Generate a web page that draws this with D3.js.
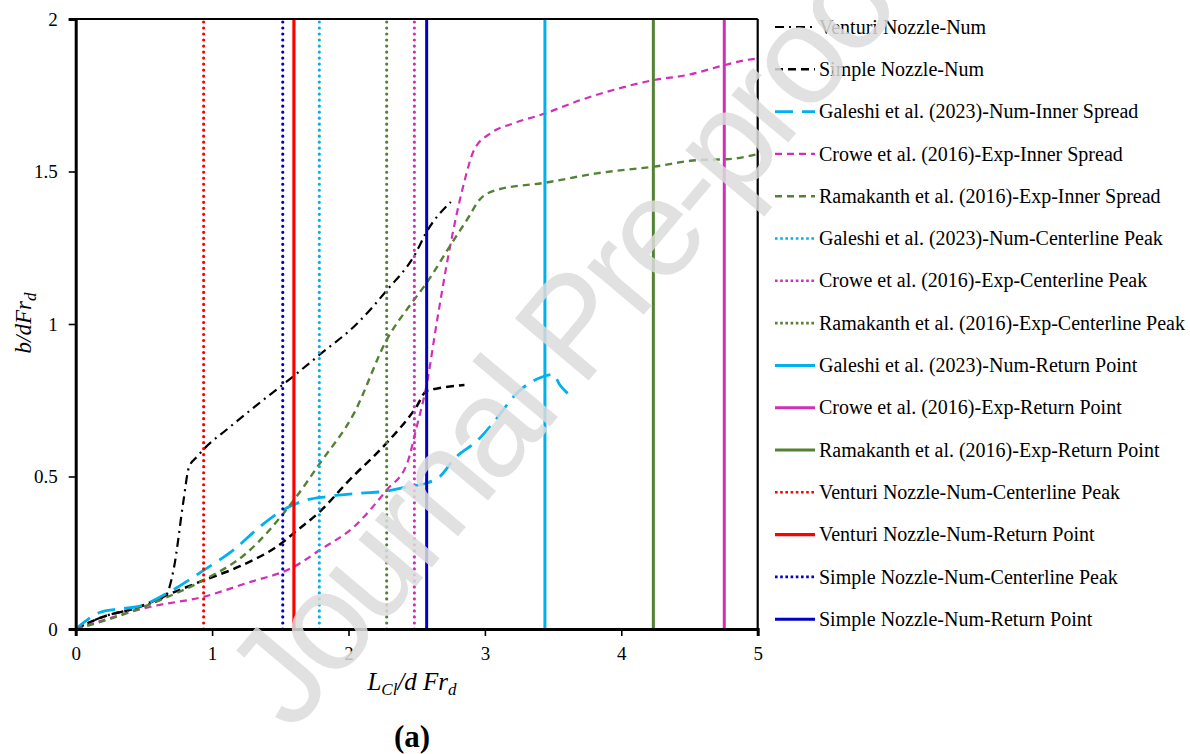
<!DOCTYPE html>
<html>
<head>
<meta charset="utf-8">
<script src="https://cdn.jsdelivr.net/npm/d3@7"></script>
<style>
  html, body { margin: 0; padding: 0; background: #fff; }
  svg { display: block; }
</style>
</head>
<body>
<svg id="chart" width="1190" height="754"></svg>
<script>
// ---------- DATA ----------
const xTicks = [0, 1, 2, 3, 4, 5];
const yTicks = [0, 0.5, 1, 1.5, 2];
const yTickLabels = ["0", "0.5", "1", "1.5", "2"];

const venturiX = [0, 0.2, 0.45, 0.66, 0.72, 0.79, 0.83, 0.89, 0.94, 1.11, 1.33, 1.6, 1.79, 2.06, 2.28, 2.49, 2.57, 2.75];
const venturiY = [0, 0.04, 0.07, 0.11, 0.2, 0.42, 0.53, 0.565, 0.59, 0.655, 0.735, 0.83, 0.90, 1.00, 1.11, 1.23, 1.30, 1.40];

const simpleX = [0, 0.2, 0.45, 0.69, 0.94, 1.2, 1.52, 1.6, 1.79, 2.01, 2.28, 2.5, 2.57, 2.67, 2.85];
const simpleY = [0, 0.04, 0.07, 0.115, 0.16, 0.205, 0.285, 0.315, 0.385, 0.49, 0.61, 0.73, 0.78, 0.79, 0.80];

const galeshiX = [0, 0.18, 0.3, 0.47, 0.67, 0.94, 1.16, 1.35, 1.52, 1.69, 1.84, 2.08, 2.28, 2.44, 2.57, 2.67, 2.78, 2.95, 3.05, 3.25, 3.4, 3.5, 3.55, 3.64];
const galeshiY = [0, 0.055, 0.065, 0.075, 0.117, 0.193, 0.26, 0.335, 0.39, 0.423, 0.434, 0.445, 0.452, 0.467, 0.478, 0.50, 0.56, 0.62, 0.67, 0.78, 0.823, 0.835, 0.80, 0.76];

const croweX = [0, 0.55, 0.94, 1.25, 1.6, 1.79, 2.04, 2.28, 2.43, 2.5, 2.57, 2.65, 2.74, 2.84, 2.92, 3.04, 3.21, 3.44, 3.7, 3.94, 4.24, 4.48, 4.76, 4.92, 5.0];
const croweY = [0, 0.073, 0.106, 0.15, 0.204, 0.259, 0.335, 0.456, 0.543, 0.663, 0.794, 1.013, 1.243, 1.45, 1.57, 1.625, 1.658, 1.69, 1.734, 1.767, 1.80, 1.816, 1.849, 1.866, 1.87];

const ramakanthX = [0, 0.37, 0.62, 0.94, 1.25, 1.6, 1.79, 2.04, 2.28, 2.48, 2.57, 2.75, 2.88, 2.96, 3.09, 3.44, 3.82, 4.24, 4.58, 4.77, 5.0];
const ramakanthY = [0, 0.051, 0.095, 0.161, 0.248, 0.423, 0.543, 0.707, 0.948, 1.079, 1.133, 1.26, 1.35, 1.407, 1.44, 1.463, 1.494, 1.516, 1.538, 1.54, 1.557];

// vertical marker lines (x positions)
const markerNames = [
  "Galeshi et al. (2023)-Num-Centerline Peak",
  "Crowe et al. (2016)-Exp-Centerline Peak",
  "Ramakanth et al. (2016)-Exp-Centerline Peak",
  "Galeshi et al. (2023)-Num-Return Point",
  "Crowe et al. (2016)-Exp-Return Point",
  "Ramakanth et al. (2016)-Exp-Return Point",
  "Venturi Nozzle-Num-Centerline Peak",
  "Venturi Nozzle-Num-Return Point",
  "Simple Nozzle-Num-Centerline Peak",
  "Simple Nozzle-Num-Return Point"
];
const markerX = [1.786, 2.483, 2.28, 3.44, 4.755, 4.235, 0.938, 1.60, 1.518, 2.573];

const curveNames = [
  "Venturi Nozzle-Num",
  "Simple Nozzle-Num",
  "Galeshi et al. (2023)-Num-Inner Spread",
  "Crowe et al. (2016)-Exp-Inner Spread",
  "Ramakanth et al. (2016)-Exp-Inner Spread"
];

// ---------- STYLES ----------
const C_CYAN = "#00B0F0", C_MAG = "#D22FB8", C_GREEN = "#548235", C_RED = "#FF0000", C_BLUE = "#0000C8", C_BLACK = "#000000";
const curveStyles = [
  {color: C_BLACK, dash: "9 5 2 5", w: 2.2},
  {color: C_BLACK, dash: "8 5", w: 2.5},
  {color: C_CYAN, dash: "18 9", w: 2.8},
  {color: C_MAG, dash: "7 5", w: 2.2},
  {color: C_GREEN, dash: "7 5", w: 2.4}
];
const DOT = "0.01 6";
const markerStyles = [
  {color: C_CYAN, dash: DOT, w: 3.2},
  {color: C_MAG, dash: DOT, w: 3.2},
  {color: C_GREEN, dash: DOT, w: 3.2},
  {color: C_CYAN, dash: null, w: 3},
  {color: C_MAG, dash: null, w: 3},
  {color: C_GREEN, dash: null, w: 3},
  {color: C_RED, dash: DOT, w: 3.2},
  {color: C_RED, dash: null, w: 3.2},
  {color: C_BLUE, dash: DOT, w: 3.2},
  {color: C_BLUE, dash: null, w: 3}
];

const svg = d3.select("#chart");
const xs = d3.scaleLinear().domain([0, 5]).range([75.7, 757.7]);
const ys = d3.scaleLinear().domain([0, 2]).range([629, 19]);
const FONT = "'Liberation Serif','Times New Roman',serif";

const curves = [
  [venturiX, venturiY], [simpleX, simpleY], [galeshiX, galeshiY], [croweX, croweY], [ramakanthX, ramakanthY]
];

const line = d3.line().x(d => xs(d[0])).y(d => ys(d[1])).curve(d3.curveMonotoneX);

const plot = svg.append("g");
curves.forEach((c, i) => {
  const pts = c[0].map((x, j) => [x, c[1][j]]);
  const s = curveStyles[i];
  plot.append("path").attr("d", line(pts)).attr("fill", "none")
    .attr("stroke", s.color).attr("stroke-width", s.w)
    .attr("stroke-dasharray", s.dash);
});

markerX.forEach((x, i) => {
  const s = markerStyles[i];
  plot.append("line").attr("x1", xs(x)).attr("x2", xs(x)).attr("y1", ys(0)).attr("y2", ys(2))
    .attr("stroke", s.color).attr("stroke-width", s.w)
    .attr("stroke-dasharray", s.dash)
    .attr("stroke-linecap", s.dash ? "round" : "butt");
});

// frame
svg.append("line").attr("x1", xs(0)).attr("x2", xs(5)).attr("y1", ys(2)).attr("y2", ys(2)).attr("stroke", "#000").attr("stroke-width", 2.2);
svg.append("line").attr("x1", xs(5)).attr("x2", xs(5)).attr("y1", ys(2)).attr("y2", ys(0)).attr("stroke", "#000").attr("stroke-width", 2.2);

// axes
const yAxis = d3.axisLeft(ys).tickValues(yTicks).tickSize(7).tickPadding(11)
  .tickFormat((d, i) => yTickLabels[i]);
const gy = svg.append("g").attr("transform", `translate(${xs(0)},0)`).call(yAxis);
gy.attr("font-family", FONT);
gy.select(".domain").attr("stroke", "#000").attr("stroke-width", 3);
gy.selectAll(".tick line").attr("stroke", "#000").attr("stroke-width", 1.6);
gy.selectAll(".tick text").attr("font-family", FONT).attr("font-size", 19).attr("fill", "#000");

const xAxis = d3.axisBottom(xs).tickValues(xTicks).tickSize(7).tickPadding(11).tickFormat(d3.format("d"));
const gx = svg.append("g").attr("transform", `translate(0,${ys(0)})`).call(xAxis);
gx.attr("font-family", FONT);
gx.select(".domain").attr("stroke", "#000").attr("stroke-width", 3);
gx.selectAll(".tick line").attr("stroke", "#000").attr("stroke-width", 1.6);
gx.selectAll(".tick text").attr("font-family", FONT).attr("font-size", 19).attr("fill", "#000");

// axis titles
const yl = svg.append("text").attr("transform", "translate(31,323) rotate(-90)")
  .attr("text-anchor", "middle").attr("font-family", FONT).attr("font-style", "italic").attr("font-size", 23);
yl.append("tspan").text("b/dFr");
yl.append("tspan").text("d").attr("font-size", 17).attr("dy", 5);

const xl = svg.append("text").attr("x", 412).attr("y", 690)
  .attr("text-anchor", "middle").attr("font-family", FONT).attr("font-style", "italic").attr("font-size", 25);
xl.append("tspan").text("L");
xl.append("tspan").text("Cl").attr("font-size", 17).attr("dy", 5);
xl.append("tspan").text("/d Fr").attr("dy", -5);
xl.append("tspan").text("d").attr("font-size", 17).attr("dy", 5);

svg.append("text").attr("x", 412).attr("y", 747).attr("text-anchor", "middle")
  .attr("font-family", FONT).attr("font-weight", "bold").attr("font-size", 31).text("(a)");

// legend
const legendNames = curveNames.concat(markerNames);
const legendStyles = curveStyles.concat(markerStyles);
const leg = svg.append("g");
legendNames.forEach((n, i) => {
  const y = 27 + i * 42.3;
  const s = legendStyles[i];
  leg.append("line").attr("x1", 775).attr("x2", 815).attr("y1", y).attr("y2", y)
    .attr("stroke", s.color).attr("stroke-width", s.dash === DOT ? 2.6 : s.w)
    .attr("stroke-dasharray", s.dash === DOT ? "2.6 2.6" : s.dash);
  leg.append("text").attr("x", 819).attr("y", y).attr("dy", "0.33em")
    .attr("font-family", FONT).attr("font-size", 20).attr("fill", "#000").text(n);
});

// watermark
svg.append("text").attr("transform", "translate(292,734) rotate(-50)")
  .attr("font-family", "'Liberation Sans', Arial, sans-serif").attr("font-size", 140)
  .attr("letter-spacing", -6)
  .attr("fill", "#dcdcdc").attr("fill-opacity", 0.85).text("Journal Pre-proof");
</script>
</body>
</html>
